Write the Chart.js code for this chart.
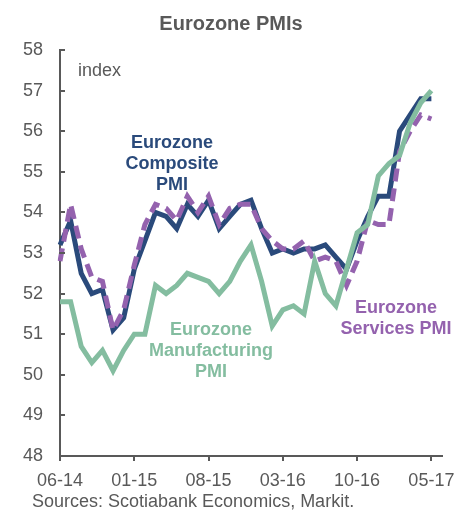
<!DOCTYPE html>
<html>
<head>
<meta charset="utf-8">
<script src="https://cdn.jsdelivr.net/npm/chart.js@4/dist/chart.umd.min.js"></script>
<style>
  body { margin: 0; background: #fff; }
  #wrap { width: 467px; height: 511px; position: relative; }
</style>
</head>
<body>
<div id="wrap"><canvas id="myChart"></canvas></div>
<script>
// months, Jun 2014 .. Jun 2017 (last slot left empty, axis runs a bit past 05-17)
var months = ['06-14','07-14','08-14','09-14','10-14','11-14','12-14',
  '01-15','02-15','03-15','04-15','05-15','06-15','07-15','08-15','09-15','10-15','11-15','12-15',
  '01-16','02-16','03-16','04-16','05-16','06-16','07-16','08-16','09-16','10-16','11-16','12-16',
  '01-17','02-17','03-17','04-17','05-17','06-17'];

var composite = [53.2, 53.8, 52.5, 52.0, 52.1, 51.1, 51.4,
  52.6, 53.3, 54.0, 53.9, 53.6, 54.2, 53.9, 54.3, 53.6, 53.9, 54.2, 54.3,
  53.6, 53.0, 53.1, 53.0, 53.1, 53.1, 53.2, 52.9, 52.6, 53.3, 53.9, 54.4,
  54.4, 56.0, 56.4, 56.8, 56.8];

var services = [52.8, 54.2, 53.1, 52.4, 52.3, 51.1, 51.6,
  52.7, 53.7, 54.2, 54.1, 53.8, 54.4, 54.0, 54.4, 53.7, 54.1, 54.2, 54.2,
  53.6, 53.3, 53.1, 53.1, 53.3, 52.8, 52.9, 52.8, 52.2, 52.8, 53.8, 53.7,
  53.7, 55.5, 56.0, 56.4, 56.3];

var manufacturing = [51.8, 51.8, 50.7, 50.3, 50.6, 50.1, 50.6,
  51.0, 51.0, 52.2, 52.0, 52.2, 52.5, 52.4, 52.3, 52.0, 52.3, 52.8, 53.2,
  52.3, 51.2, 51.6, 51.7, 51.5, 52.8, 52.0, 51.7, 52.6, 53.5, 53.7, 54.9,
  55.2, 55.4, 56.2, 56.7, 57.0];

var grey = '#595959';
var navy = '#2a4a7b';
var purple = '#9462ae';
var green = '#84bda0';
var font = 'Arial, "Liberation Sans", sans-serif';

// titles, notes and inward y ticks
var extras = {
  id: 'extras',
  afterDraw: function(chart) {
    var c = chart.ctx;
    var y = chart.scales.y;
    c.save();
    c.strokeStyle = grey;
    c.lineWidth = 2;
    y.ticks.forEach(function(t) {
      var py = Math.round(y.getPixelForValue(t.value));
      c.beginPath();
      c.moveTo(y.right - 1, py);
      c.lineTo(y.right + 5, py);
      c.stroke();
    });

    c.textBaseline = 'alphabetic';
    c.textAlign = 'center';
    c.fillStyle = grey;
    c.font = 'bold 20px ' + font;
    c.fillText('Eurozone PMIs', 231, 30);

    c.textAlign = 'left';
    c.font = '18px ' + font;
    c.fillText('index', 78, 76);
    c.fillText('Sources: Scotiabank Economics, Markit.', 32, 507);

    c.textAlign = 'center';
    c.font = 'bold 18px ' + font;
    c.fillStyle = navy;
    c.fillText('Eurozone', 172, 148);
    c.fillText('Composite', 172, 169);
    c.fillText('PMI', 172, 190);

    c.fillStyle = green;
    c.fillText('Eurozone', 211, 335);
    c.fillText('Manufacturing', 211, 356);
    c.fillText('PMI', 211, 377);

    c.fillStyle = purple;
    c.fillText('Eurozone', 396, 313);
    c.fillText('Services PMI', 396, 334);
    c.restore();
  }
};

var ctx = document.getElementById('myChart').getContext('2d');
var pmiChart = new Chart(ctx, {
  type: 'line',
  data: {
    labels: months,
    datasets: [{
      label: 'Eurozone Manufacturing PMI',
      data: manufacturing,
      borderColor: green,
      borderWidth: 5,
      pointRadius: 0,
      tension: 0
    }, {
      label: 'Eurozone Services PMI',
      data: services,
      borderColor: purple,
      borderWidth: 5,
      borderDash: [13, 7],
      pointRadius: 0,
      tension: 0
    }, {
      label: 'Eurozone Composite PMI',
      data: composite,
      borderColor: navy,
      borderWidth: 5,
      pointRadius: 0,
      tension: 0
    }]
  },
  options: {
    responsive: true,
    maintainAspectRatio: false,
    animation: false,
    layout: { padding: { top: 50, right: 25, bottom: 0, left: 0 } },
    plugins: {
      legend: { display: false },
      tooltip: { enabled: false },
      title: { display: false }
    },
    scales: {
      x: {
        offset: false,
        afterBuildTicks: function(s) {
          s.ticks = s.ticks.filter(function(t, i) { return i % 7 === 0; });
        },
        afterFit: function(s) { s.height = 55; },
        ticks: { autoSkip: false, maxRotation: 0, color: grey, padding: 9, font: { size: 18, family: font } },
        grid: { drawOnChartArea: false, tickLength: 5, color: grey, lineWidth: 2 },
        border: { color: grey, width: 2 }
      },
      y: {
        min: 48,
        max: 58,
        afterFit: function(s) { s.width = 60; },
        ticks: { stepSize: 1, color: grey, padding: 9, font: { size: 18, family: font } },
        grid: { display: false },
        border: { color: grey, width: 2 }
      }
    }
  },
  plugins: [extras]
});
</script>
</body>
</html>
